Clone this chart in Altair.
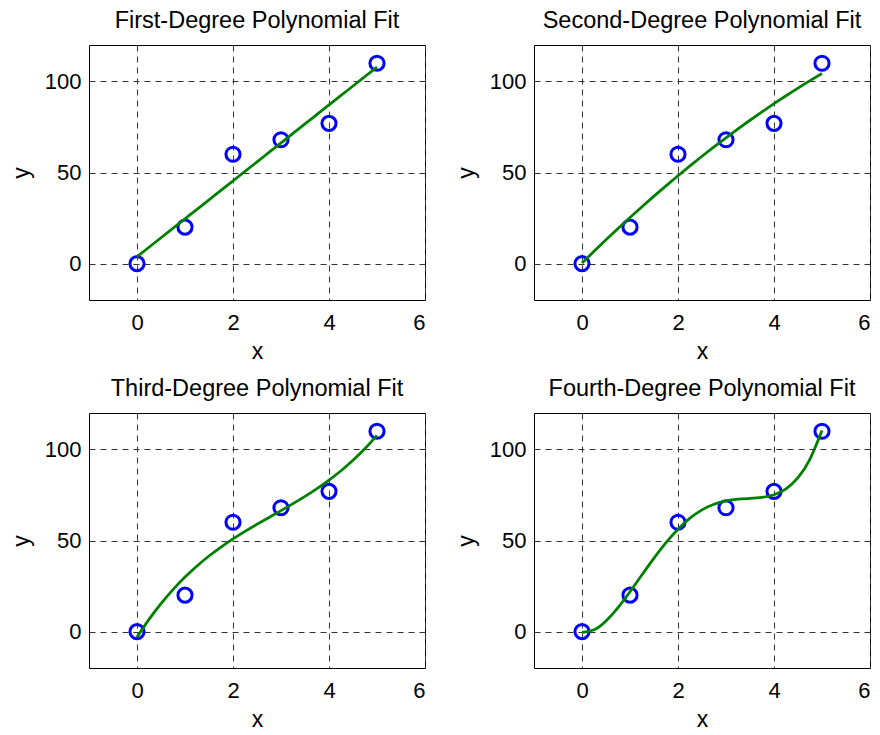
import altair as alt
import pandas as pd

# measured data points
x_data = [0, 1, 2, 3, 4, 5]
y_data = [0, 20, 60, 68, 77, 110]

fit_x = [0, 0.25, 0.5, 0.75, 1, 1.25, 1.5, 1.75, 2, 2.25, 2.5,
         2.75, 3, 3.25, 3.5, 3.75, 4, 4.25, 4.5, 4.75, 5]
fit1 = [3.76, 8.97, 14.17, 19.38, 24.59, 29.80, 35.00, 40.21, 45.42, 50.63, 55.83,
        61.04, 66.25, 71.46, 76.66, 81.87, 87.08, 92.29, 97.49, 102.70, 107.91]
fit2 = [0.25, 6.71, 13.03, 19.23, 25.29, 31.22, 37.02, 42.69, 48.23, 53.63, 58.91,
        64.05, 69.06, 73.94, 78.68, 83.30, 87.78, 92.13, 96.35, 100.44, 104.39]
fit3 = [-3.06, 6.68, 15.35, 23.06, 29.92, 36.03, 41.49, 46.40, 50.87, 55.01, 58.91,
        62.67, 66.41, 70.23, 74.22, 78.49, 83.15, 88.30, 94.04, 100.47, 107.70]
fit4 = [-0.39, 0.95, 5.84, 13.15, 21.88, 31.18, 40.36, 48.84, 56.23, 62.26, 66.82,
        69.93, 71.77, 72.67, 73.09, 73.65, 75.12, 78.39, 84.53, 94.74, 110.38]

titles = ["First-Degree Polynomial Fit", "Second-Degree Polynomial Fit",
          "Third-Degree Polynomial Fit", "Fourth-Degree Polynomial Fit"]
fits = [fit1, fit2, fit3, fit4]

x_ticks = [0, 2, 4, 6]
y_ticks = [0, 50, 100]

FONT = "Liberation Sans"
W, H = 336, 255

pts_df = pd.DataFrame({"x": x_data, "y": y_data})

grid_kw = dict(grid=True, gridDash=[6, 5], gridColor="#333333", gridOpacity=1,
               gridWidth=1, domain=False, ticks=False,
               labelFont=FONT, labelFontSize=22, labelColor="black",
               titleFont=FONT, titleFontSize=23, titleFontWeight="normal",
               titleColor="black")

xscale = alt.Scale(domain=[-1, 6], nice=False, zero=False)
yscale = alt.Scale(domain=[-20, 120], nice=False, zero=False)
xaxis = alt.Axis(values=x_ticks, title="x", labelPadding=12, titlePadding=7, **grid_kw)
yaxis = alt.Axis(values=y_ticks, title="y", labelPadding=8, titlePadding=11, **grid_kw)


def panel(fit, title):
    fit_df = pd.DataFrame({"x": fit_x, "y": fit})
    pts = alt.Chart(pts_df).mark_point(
        shape="circle", filled=False, color="#0000FF", strokeWidth=3, size=200, opacity=1
    ).encode(
        x=alt.X("x:Q", scale=xscale, axis=xaxis),
        y=alt.Y("y:Q", scale=yscale, axis=yaxis),
    )
    line = alt.Chart(fit_df).mark_line(
        color="#008000", strokeWidth=2.8, interpolate="natural"
    ).encode(
        x=alt.X("x:Q", scale=xscale, axis=xaxis),
        y=alt.Y("y:Q", scale=yscale, axis=yaxis),
    )
    return alt.layer(pts, line).properties(
        width=W, height=H,
        title=alt.TitleParams(title, font=FONT, fontSize=23.5, fontWeight="normal",
                              color="black", anchor="middle", baseline="alphabetic",
                              offset=-6),
    )


panels = [panel(f, t) for f, t in zip(fits, titles)]

chart = alt.vconcat(
    alt.hconcat(panels[0], panels[1], spacing=28),
    alt.hconcat(panels[2], panels[3], spacing=28),
    spacing=12,
).properties(
    padding={"left": 1, "top": 0, "right": 0, "bottom": 0},
    background="white",
).configure_view(stroke="black", strokeWidth=1)

chart.save("out.html", embed_options={"renderer": "svg", "actions": False})
